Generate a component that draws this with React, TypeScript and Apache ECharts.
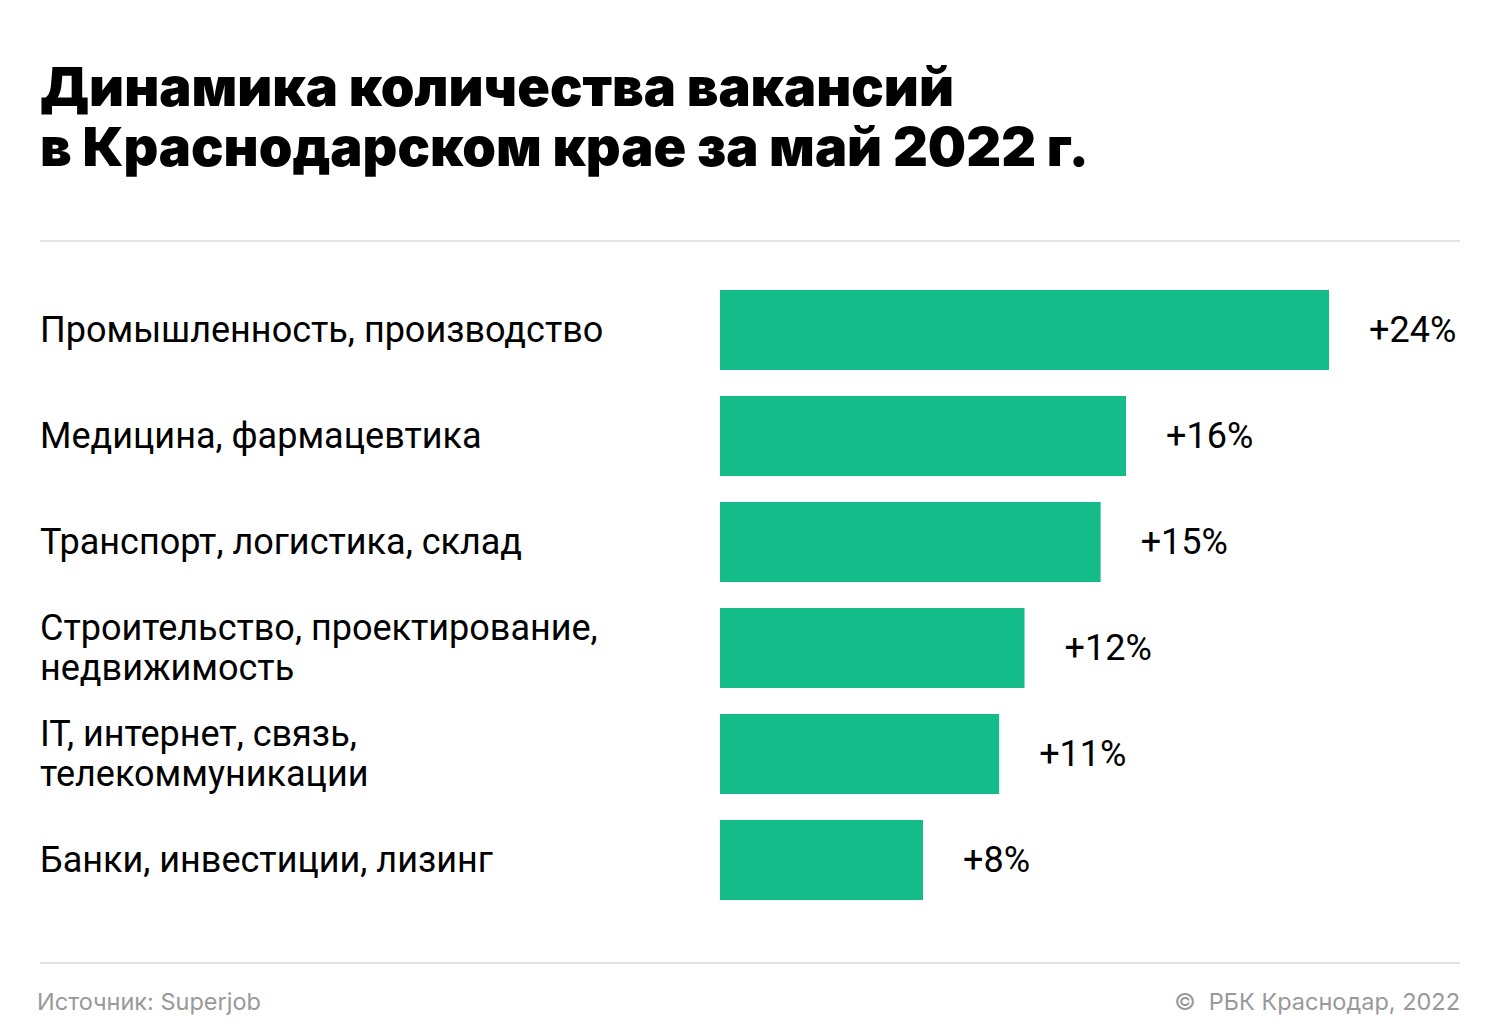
import React, { useEffect, useRef } from "react";
import * as echarts from "echarts";

const categories = [
  "Промышленность, производство",
  "Медицина, фармацевтика",
  "Транспорт, логистика, склад",
  "Строительство, проектирование,\nнедвижимость",
  "IT, интернет, связь,\nтелекоммуникации",
  "Банки, инвестиции, лизинг",
];
const values = [24, 16, 15, 12, 11, 8];

const titleLines = [
  "Динамика количества вакансий",
  "в Краснодарском крае за май 2022 г.",
];
const sourceText = "Источник: Superjob";
const copyrightText = "©  РБК Краснодар, 2022";

export default function App() {
  const ref = useRef<HTMLDivElement>(null);
  useEffect(() => {
    document.body.style.margin = "0";
    const chart = echarts.init(ref.current!, null, { renderer: "svg" });
    chart.setOption({
      animation: false,
      backgroundColor: "#ffffff",
      grid: { left: 720, top: 277, width: 761.25, height: 636, containLabel: false },
      xAxis: {
        type: "value",
        min: 0,
        max: 30,
        show: false,
      },
      yAxis: {
        type: "category",
        inverse: true,
        data: categories,
        axisLine: { show: false },
        axisTick: { show: false },
        splitLine: { show: false },
        axisLabel: {
          align: "left",
          margin: 680,
          fontSize: 36,
          lineHeight: 40,
          color: "#000000",
          fontFamily: "Roboto",
        },
      },
      series: [
        {
          type: "bar",
          data: values,
          barWidth: 80,
          itemStyle: { color: "#13bc88" },
          label: {
            show: true,
            position: "right",
            distance: 40,
            formatter: (p: any) => "+" + p.value + "%",
            fontSize: 36,
            color: "#000000",
            fontFamily: "Roboto",
          },
        },
      ],
      graphic: [
        {
          type: "text",
          left: 40,
          top: 56,
          style: {
            text: titleLines.join("\n"),
            fontSize: 54,
            lineHeight: 60,
            fontWeight: 900,
            fontFamily: "Inter",
            fill: "#000000",
          },
        },
        {
          type: "line",
          shape: { x1: 40, y1: 241, x2: 1460, y2: 241 },
          style: { stroke: "#e3e3e3", lineWidth: 2 },
        },
        {
          type: "line",
          shape: { x1: 40, y1: 963, x2: 1460, y2: 963 },
          style: { stroke: "#e3e3e3", lineWidth: 2 },
        },
        {
          type: "text",
          x: 37,
          y: 1001,
          style: {
            text: sourceText,
            fontSize: 23.5,
            fontFamily: "Inter",
            fill: "#999999",
            verticalAlign: "middle",
          },
        },
        {
          type: "text",
          x: 1460,
          y: 1001,
          style: {
            text: copyrightText,
            fontSize: 23.5,
            fontFamily: "Inter",
            fill: "#999999",
            align: "right",
            verticalAlign: "middle",
          },
        },
      ],
    });
    return () => chart.dispose();
  }, []);
  return (
    <div
      ref={ref}
      style={{ position: "absolute", left: 0, top: 0, width: 1500, height: 1032 }}
    />
  );
}
